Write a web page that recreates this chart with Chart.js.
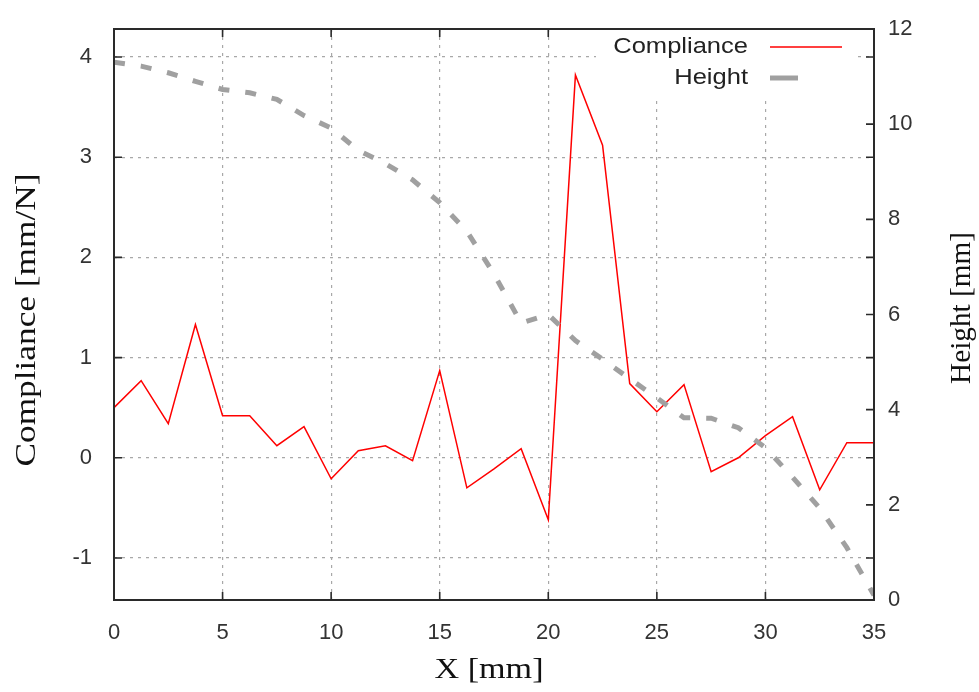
<!DOCTYPE html>
<html>
<head>
<meta charset="utf-8">
<script src="https://cdn.jsdelivr.net/npm/chart.js@4/dist/chart.umd.min.js"></script>
<style>
    html, body { margin: 0; padding: 0; background: #ffffff; }
    #wrap { width: 979px; height: 692px; }
</style>
</head>
<body>
<div id="wrap"><canvas id="chart" width="979" height="692"></canvas></div>
<script>
// Data
const xValues = [0, 1.25, 2.5, 3.75, 5, 6.25, 7.5, 8.75, 10, 11.25, 12.5, 13.75, 15, 16.25, 17.5,
    18.75, 20, 21.25, 22.5, 23.75, 25, 26.25, 27.5, 28.75, 30, 31.25, 32.5, 33.75, 35];
const compliance = [0.50, 0.77, 0.34, 1.33, 0.42, 0.42, 0.12, 0.31, -0.21, 0.07, 0.12, -0.03, 0.87, -0.30, -0.11,
    0.09, -0.62, 3.82, 3.12, 0.74, 0.46, 0.73, -0.14, 0.00, 0.22, 0.41, -0.32, 0.15, 0.15];
const height = [11.30, 11.22, 11.08, 10.90, 10.73, 10.66, 10.52, 10.18, 9.92, 9.45, 9.17, 8.83, 8.35, 7.75, 6.85,
    5.82, 6.00, 5.45, 5.06, 4.65, 4.25, 3.83, 3.82, 3.62, 3.20, 2.58, 1.93, 1.10, 0.10];
const xTicks = [0, 5, 10, 15, 20, 25, 30, 35];
const leftTicks = [-1, 0, 1, 2, 3, 4];
const rightTicks = [0, 2, 4, 6, 8, 10, 12];
const seriesNames = ["Compliance", "Height"];

const sansFont = "'Liberation Sans', Arial, sans-serif";
const serifFont = "'Liberation Serif', 'Times New Roman', serif";

function toPoints(ys) {
    return xValues.map((x, i) => ({ x: x, y: ys[i] }));
}

// text stretched along its own direction to a given length (gnuplot renders wide)
function fitText(ctx, text, cx, cy, len, angle) {
    const w = ctx.measureText(text).width;
    ctx.save();
    ctx.translate(cx, cy);
    ctx.rotate(angle);
    ctx.scale(len / w, 1);
    ctx.fillText(text, 0, 0);
    ctx.restore();
}

// keep the vertical axes from pushing the plot area down for their end labels
function fixedWidth(w) {
    return s => {
        s.width = w;
        s.paddingTop = 0;
        s.paddingBottom = 0;
    };
}

// frame, inward ticks, axis titles and the key, drawn gnuplot style
const gnuplotDecor = {
    id: "gnuplotDecor",
    afterDatasetsDraw(chart) {
        const ctx = chart.ctx;
        const a = chart.chartArea;
        const sx = chart.scales.x, sy = chart.scales.y, sy2 = chart.scales.y2;
        const tick = 8;
        ctx.save();
        ctx.strokeStyle = "#2a2a2a";
        ctx.lineWidth = 1.6;
        ctx.beginPath();
        xTicks.forEach(v => {
            const px = sx.getPixelForValue(v);
            ctx.moveTo(px, a.bottom); ctx.lineTo(px, a.bottom - tick);
            ctx.moveTo(px, a.top); ctx.lineTo(px, a.top + tick);
        });
        leftTicks.forEach(v => {
            const py = sy.getPixelForValue(v);
            ctx.moveTo(a.left, py); ctx.lineTo(a.left + tick, py);
            ctx.moveTo(a.right, py); ctx.lineTo(a.right - tick, py);
        });
        rightTicks.forEach(v => {
            const py = sy2.getPixelForValue(v);
            ctx.moveTo(a.right, py); ctx.lineTo(a.right - tick, py);
        });
        ctx.stroke();
        ctx.lineWidth = 2;
        ctx.strokeRect(a.left, a.top, a.right - a.left, a.bottom - a.top);
        ctx.restore();
    },
    afterDraw(chart) {
        const ctx = chart.ctx;
        const a = chart.chartArea;
        ctx.save();

        // axis titles
        ctx.fillStyle = "#111111";
        ctx.font = "30px " + serifFont;
        ctx.textAlign = "center";
        ctx.textBaseline = "middle";
        fitText(ctx, "X [mm]", 489, 670, 109, 0);
        fitText(ctx, "Compliance [mm/N]", 27, 320, 293, -Math.PI / 2);
        fitText(ctx, "Height [mm]", 962, 308, 152, -Math.PI / 2);

        // key (opaque, top right inside the plot)
        ctx.fillStyle = "#ffffff";
        ctx.fillRect(596, a.top + 1, 261, 66);
        ctx.fillStyle = "#222222";
        ctx.font = "22px " + sansFont;
        ctx.textAlign = "right";
        [47, 78].forEach((y, i) => {
            ctx.save();
            ctx.translate(748, y);
            ctx.scale(1.16, 1);
            ctx.fillText(seriesNames[i], 0, 0);
            ctx.restore();
        });
        ctx.strokeStyle = "#ff0000";
        ctx.lineWidth = 1.5;
        ctx.beginPath();
        ctx.moveTo(770, 47); ctx.lineTo(842, 47);
        ctx.stroke();
        ctx.strokeStyle = "#a0a0a0";
        ctx.lineWidth = 5;
        ctx.beginPath();
        ctx.moveTo(770, 78); ctx.lineTo(798, 78);
        ctx.stroke();
        ctx.restore();
    }
};

const gridColor = "#a8a8a8";
const ctx = document.getElementById("chart").getContext("2d");
const chart = new Chart(ctx, {
    type: "line",
    data: {
        datasets: [
            {
                label: seriesNames[0],
                data: toPoints(compliance),
                yAxisID: "y",
                borderColor: "#ff0000",
                borderWidth: 1.5,
                pointRadius: 0,
                tension: 0,
                order: 1
            },
            {
                label: seriesNames[1],
                data: toPoints(height),
                yAxisID: "y2",
                borderColor: "#a0a0a0",
                borderWidth: 5,
                borderDash: [11, 16],
                borderCapStyle: "butt",
                pointRadius: 0,
                tension: 0,
                order: 0
            }
        ]
    },
    options: {
        responsive: false,
        animation: false,
        layout: { padding: { top: 29, left: 0, right: 0, bottom: 0 } },
        plugins: {
            legend: { display: false },
            tooltip: { enabled: false }
        },
        scales: {
            x: {
                type: "linear",
                min: 0,
                max: 35,
                afterBuildTicks: s => { s.ticks = xTicks.map(v => ({ value: v })); },
                afterFit: s => { s.height = 92; },
                ticks: {
                    padding: 20,
                    color: "#333333",
                    font: { family: sansFont, size: 22 }
                },
                grid: {
                    drawTicks: false,
                    color: c => (c.tick && (c.tick.value === 0 || c.tick.value === 35)) ? "rgba(0,0,0,0)" : gridColor,
                    lineWidth: 1.2
                },
                border: { display: false, dash: [3, 5] }
            },
            y: {
                type: "linear",
                position: "left",
                min: -1.42,
                max: 4.28,
                afterBuildTicks: s => { s.ticks = leftTicks.map(v => ({ value: v })); },
                afterFit: fixedWidth(114),
                ticks: {
                    padding: 22,
                    color: "#333333",
                    font: { family: sansFont, size: 22 }
                },
                grid: { drawTicks: false, color: gridColor, lineWidth: 1.2 },
                border: { display: false, dash: [3, 5] }
            },
            y2: {
                type: "linear",
                position: "right",
                min: 0,
                max: 12,
                afterBuildTicks: s => { s.ticks = rightTicks.map(v => ({ value: v })); },
                afterFit: fixedWidth(105),
                ticks: {
                    padding: 14,
                    color: "#333333",
                    font: { family: sansFont, size: 22 }
                },
                grid: { display: false, drawTicks: false },
                border: { display: false }
            }
        }
    },
    plugins: [gnuplotDecor]
});
</script>
</body>
</html>
